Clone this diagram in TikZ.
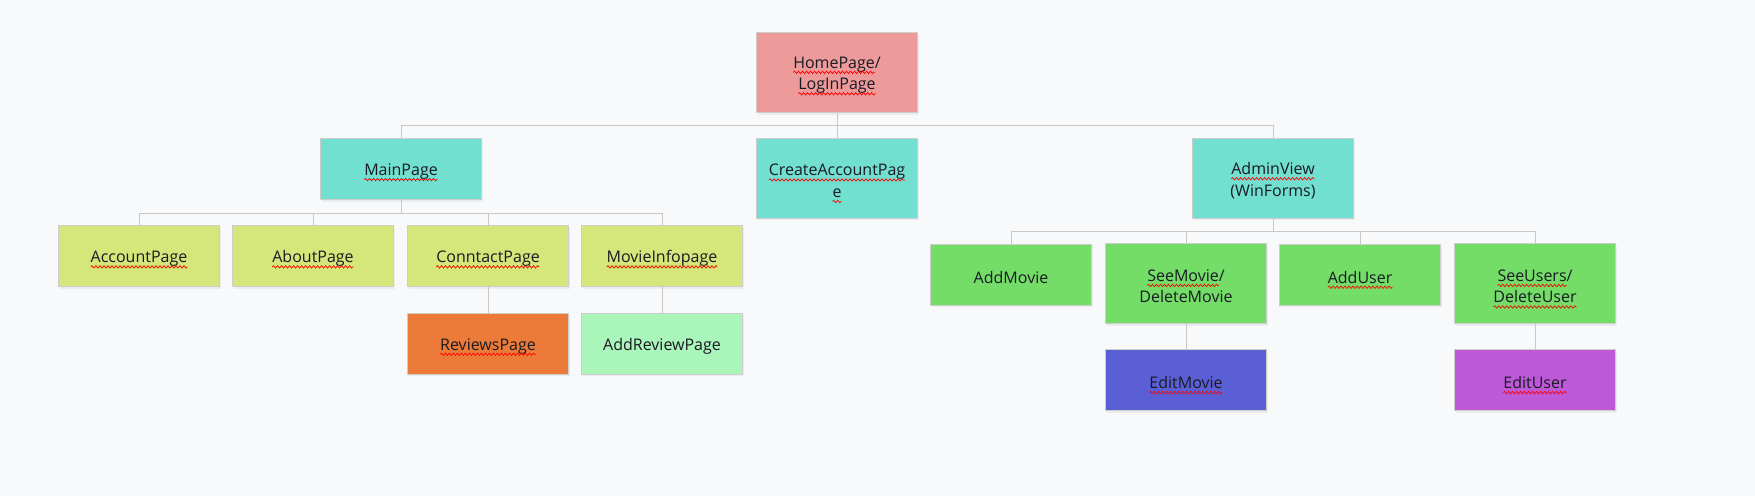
\documentclass[tikz,border=0pt]{standalone}
\usepackage{fontspec}
\setmainfont{Open Sans}
\usetikzlibrary{shadows,decorations.pathmorphing}
\definecolor{bg}{HTML}{F8F9FB}
\definecolor{boxborder}{HTML}{CDCDCD}
\definecolor{linec}{HTML}{C8C8C8}
\definecolor{txt}{HTML}{1A1A24}
\definecolor{cpink}{HTML}{ED9A9A}
\definecolor{cteal}{HTML}{72E0D0}
\definecolor{cyell}{HTML}{D5E67A}
\definecolor{corange}{HTML}{EC7B39}
\definecolor{clgreen}{HTML}{AAF5BA}
\definecolor{cgreen}{HTML}{73DD68}
\definecolor{cblue}{HTML}{5B5FD6}
\definecolor{cpurple}{HTML}{BD58D6}
\newsavebox\sqbox
\newcommand\sq[1]{\sbox\sqbox{#1}\usebox\sqbox\tikz[overlay]\draw[red,line width=0.7pt,decorate,decoration={snake,amplitude=1.2pt,segment length=4pt}] (-\wd\sqbox,-4pt) -- (0pt,-4pt);}
\begin{document}
\begin{tikzpicture}[x=1pt,y=-1pt,
  box/.style={draw=boxborder, line width=1pt, minimum width=161pt, text width=156pt,
    align=center, inner sep=0pt, font=\fontsize{16}{21.5}\selectfont, text=txt,
    execute at begin node={\rule{0pt}{17pt}},
    drop shadow={opacity=0.10, shadow xshift=1pt, shadow yshift=-2pt}},
  hs/.style={minimum height=61pt},
  ht/.style={minimum height=80pt},
  conn/.style={draw=linec, line width=1pt}]
\fill[bg] (0,0) rectangle (1755,496);
\useasboundingbox (0,0) rectangle (1755,496);

% nodes
\node[box,ht,fill=cpink] (home) at (837,72.5) {\sq{HomePage}/\\\sq{LogInPage}};
\node[box,hs,fill=cteal] (main) at (401,169) {\sq{MainPage}};
\node[box,ht,fill=cteal] (create) at (837,178.3) {\sq{CreateAccountPag}\\\sq{e}};
\node[box,ht,fill=cteal] (admin) at (1273,178.3) {\sq{AdminView}\\(WinForms)};

\node[box,hs,fill=cyell] (account) at (139,256.3) {\sq{AccountPage}};
\node[box,hs,fill=cyell] (about) at (313,256.3) {\sq{AboutPage}};
\node[box,hs,fill=cyell] (contact) at (488,256.3) {\sq{ConntactPage}};
\node[box,hs,fill=cyell] (movieinfo) at (662,256.3) {\sq{MovieInfopage}};

\node[box,hs,fill=corange] (reviews) at (488,343.7) {\sq{ReviewsPage}};
\node[box,hs,fill=clgreen] (addreview) at (662,343.7) {AddReviewPage};

\node[box,hs,fill=cgreen] (addmovie) at (1011,274.8) {AddMovie};
\node[box,ht,fill=cgreen] (seemovie) at (1186,283.8) {\sq{SeeMovie}/\\DeleteMovie};
\node[box,hs,fill=cgreen] (adduser) at (1360,274.8) {\sq{AddUser}};
\node[box,ht,fill=cgreen] (seeusers) at (1535,283.8) {\sq{SeeUsers}/\\\sq{DeleteUser}};

\node[box,hs,fill=cblue] (editmovie) at (1186,380.2) {\sq{EditMovie}};
\node[box,hs,fill=cpurple] (edituser) at (1535,380.2) {\sq{EditUser}};

% bus coordinates
\coordinate (bus1) at (837,125.3);
\coordinate (bus2) at (401,213.3);
\coordinate (bus3) at (1273,231.3);

% connectors
\draw[conn] (home.south) -- (bus1);
\draw[conn] (bus1) -| (main.north);
\draw[conn] (bus1) -| (admin.north);
\draw[conn] (bus1) -- (create.north);

\draw[conn] (main.south) -- (bus2);
\draw[conn] (bus2) -| (account.north);
\draw[conn] (bus2) -| (about.north);
\draw[conn] (bus2) -| (contact.north);
\draw[conn] (bus2) -| (movieinfo.north);

\draw[conn] (contact.south) -- (reviews.north);
\draw[conn] (movieinfo.south) -- (addreview.north);

\draw[conn] (admin.south) -- (bus3);
\draw[conn] (bus3) -| (addmovie.north);
\draw[conn] (bus3) -| (seemovie.north);
\draw[conn] (bus3) -| (adduser.north);
\draw[conn] (bus3) -| (seeusers.north);

\draw[conn] (seemovie.south) -- (editmovie.north);
\draw[conn] (seeusers.south) -- (edituser.north);
\end{tikzpicture}
\end{document}
